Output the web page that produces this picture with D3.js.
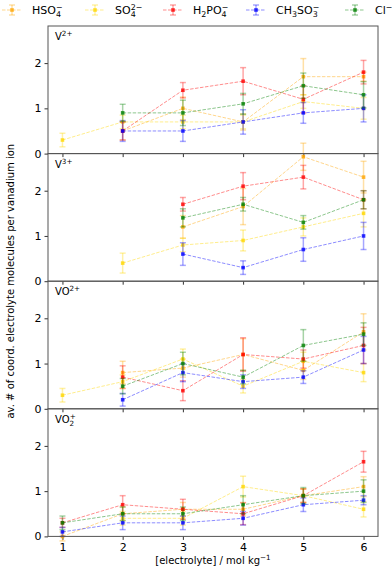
<!DOCTYPE html>
<html>
<head>
<meta charset="utf-8">
<script src="https://cdn.jsdelivr.net/npm/d3@7"></script>
<style>
  body { margin: 0; background: #fff; }
  svg text { font-family: "DejaVu Sans", sans-serif; }
</style>
</head>
<body>
<svg id="chart" width="392" height="568"></svg>
<script>
// x values: electrolyte concentration
const conc = [1, 2, 3, 4, 5, 6]
const xTicks = [1, 2, 3, 4, 5, 6]
const yTicks = [0, 1, 2]
const seriesColors = ['#ffa500', '#ffd700', '#ff0000', '#0000ff', '#008000']

// order of series in every panel: HSO4-, SO4 2-, H2PO4-, CH3SO3-, Cl-
const v2Mean = [
  [null, 0.5, 1.0, 0.7, 1.7, 1.7],
  [0.3, 0.7, 0.7, 0.7, 1.15, 1.0],
  [null, 0.5, 1.4, 1.6, 1.2, 1.8],
  [null, 0.5, 0.5, 0.7, 0.9, 1.0],
  [null, 0.9, 0.9, 1.1, 1.5, 1.3]
]
const v2Err = [
  [0, 0.2, 0.25, 0.18, 0.4, 0.1],
  [0.15, 0.15, 0.15, 0.15, 0.15, 0.24],
  [0, 0.2, 0.17, 0.3, 0.3, 0.26],
  [0, 0.23, 0.23, 0.27, 0.23, 0.3],
  [0, 0.19, 0.28, 0.23, 0.28, 0.29]
]
const v3Mean = [
  [null, null, 1.2, 1.65, 2.75, 2.3],
  [null, 0.4, 0.8, 0.9, 1.2, 1.5],
  [null, null, 1.7, 2.1, 2.3, 1.8],
  [null, null, 0.6, 0.3, 0.7, 1.0],
  [null, null, 1.4, 1.7, 1.3, 1.8]
]
const v3Err = [
  [0, 0, 0.25, 0.4, 0.3, 0.35],
  [0, 0.22, 0.15, 0.23, 0.2, 0.3],
  [0, 0, 0.15, 0.3, 0.26, 0.2],
  [0, 0, 0.25, 0.15, 0.26, 0.3],
  [0, 0, 0.2, 0.15, 0.15, 0.2]
]
const vo2Mean = [
  [null, 0.8, 0.9, 1.2, 0.85, 1.7],
  [0.3, 0.6, 1.1, 0.5, 1.05, 0.8],
  [null, 0.7, 0.4, 1.2, 1.1, 1.4],
  [null, 0.2, 0.8, 0.6, 0.7, 1.3],
  [null, 0.5, 1.0, 0.7, 1.4, 1.65]
]
const vo2Err = [
  [0, 0.25, 0.2, 0.35, 0.2, 0.4],
  [0.15, 0.15, 0.22, 0.15, 0.2, 0.2],
  [0, 0.25, 0.22, 0.37, 0.2, 0.4],
  [0, 0.14, 0.2, 0.15, 0.14, 0.3],
  [0, 0.17, 0.25, 0.15, 0.35, 0.25]
]
const vo2pMean = [
  [0.0, 0.5, 0.6, 0.6, 0.9, 1.1],
  [null, 0.4, 0.4, 1.1, 0.9, 0.6],
  [0.3, 0.7, 0.6, 0.5, 0.9, 1.65],
  [0.1, 0.3, 0.3, 0.4, 0.7, 0.8],
  [0.3, 0.5, 0.5, 0.7, 0.9, 1.0]
]
const vo2pErr = [
  [0.1, 0.15, 0.15, 0.15, 0.15, 0.22],
  [0, 0.15, 0.15, 0.23, 0.15, 0.17],
  [0.1, 0.2, 0.22, 0.24, 0.15, 0.23],
  [0.1, 0.15, 0.15, 0.15, 0.15, 0.1],
  [0.15, 0.15, 0.15, 0.2, 0.18, 0.25]
]

// label pieces: [text, small, dx, dy]
const panels = [
  { mean: v2Mean, err: v2Err, label: [['V', 0, 0, 0], ['2+', 1, 0, -4]] },
  { mean: v3Mean, err: v3Err, label: [['V', 0, 0, 0], ['3+', 1, 0, -4]] },
  { mean: vo2Mean, err: vo2Err, label: [['VO', 0, 0, 0], ['2+', 1, 0, -4]] },
  { mean: vo2pMean, err: vo2pErr, label: [['VO', 0, 0, 0], ['2', 1, 0, 3], ['+', 1, -4.5, -7]] }
]
const legendLabels = [
  [['HSO', 0, 0, 0], ['4', 1, 0, 3], ['\u2212', 1, -5, -7]],
  [['SO', 0, 0, 0], ['4', 1, 0, 3], ['2\u2212', 1, -5, -7]],
  [['H', 0, 0, 0], ['2', 1, 0, 3], ['PO', 0, 0, -3], ['4', 1, 0, 3], ['\u2212', 1, -5, -7]],
  [['CH', 0, 0, 0], ['3', 1, 0, 3], ['SO', 0, 0, -3], ['3', 1, 0, 3], ['\u2212', 1, -5, -7]],
  [['Cl', 0, 0, 0], ['\u2212', 1, 0, -4]]
]

const svg = d3.select('#chart')
const plotLeft = 48
const plotRight = 378
const plotTop = 26
const panelH = 127.6

const x = d3.scaleLinear().domain([0.76, 6.24]).range([plotLeft, plotRight])

// 写带上下标的文本
function richText(sel, parts, size) {
  parts.forEach((p) => {
    const t = sel.append('tspan').text(p[0])
    if (p[1]) t.attr('font-size', size * 0.72)
    if (p[2]) t.attr('dx', p[2])
    if (p[3]) t.attr('dy', p[3])
  })
}

panels.forEach((panel, i) => {
  const y0 = plotTop + i * panelH
  const y = d3.scaleLinear().domain([0, 2.82]).range([y0 + panelH, y0])
  const g = svg.append('g')

  // y axis ticks
  const ya = g.append('g')
    .attr('transform', `translate(${plotLeft},0)`)
    .call(d3.axisLeft(y).tickValues(yTicks).tickFormat(d3.format('d')).tickSize(3.5).tickPadding(3))
  ya.select('.domain').remove()
  ya.selectAll('text').attr('font-size', 11).attr('fill', '#000')
    .style('font-family', '"DejaVu Sans", sans-serif')
  ya.selectAll('line').attr('stroke', '#333')

  // x axis ticks (labels only on the last panel)
  const xa = g.append('g')
    .attr('transform', `translate(0,${y0 + panelH})`)
    .call(d3.axisBottom(x).tickValues(xTicks).tickFormat(i === 3 ? d3.format('d') : '').tickSize(3.5).tickPadding(3))
  xa.select('.domain').remove()
  xa.selectAll('text').attr('font-size', 11).attr('fill', '#000')
    .style('font-family', '"DejaVu Sans", sans-serif')
  xa.selectAll('line').attr('stroke', '#333')

  const plot = g.append('g')
  panel.mean.forEach((vals, s) => {
    const color = seriesColors[s]
    const pts = conc.map((c, k) => ({ c, v: vals[k], e: panel.err[s][k] })).filter(d => d.v !== null)
    const line = d3.line().x(d => x(d.c)).y(d => y(d.v))
    plot.append('path')
      .datum(pts)
      .attr('d', line)
      .attr('fill', 'none')
      .attr('stroke', color)
      .attr('stroke-opacity', 0.45)
      .attr('stroke-width', 1)
      .attr('stroke-dasharray', '3.5,1.5')
    const eb = plot.selectAll(null).data(pts).enter().append('g')
      .attr('stroke', color)
      .attr('stroke-opacity', 0.35)
      .attr('stroke-width', 1.5)
    eb.append('line')
      .attr('x1', d => x(d.c)).attr('x2', d => x(d.c))
      .attr('y1', d => y(d.v - d.e)).attr('y2', d => y(d.v + d.e))
    eb.append('line')
      .attr('x1', d => x(d.c) - 3).attr('x2', d => x(d.c) + 3)
      .attr('y1', d => y(d.v - d.e)).attr('y2', d => y(d.v - d.e))
    eb.append('line')
      .attr('x1', d => x(d.c) - 3).attr('x2', d => x(d.c) + 3)
      .attr('y1', d => y(d.v + d.e)).attr('y2', d => y(d.v + d.e))
    plot.selectAll(null).data(pts).enter().append('rect')
      .attr('x', d => x(d.c) - 1.8)
      .attr('y', d => y(d.v) - 1.8)
      .attr('width', 3.6)
      .attr('height', 3.6)
      .attr('fill', color)
      .attr('fill-opacity', 0.8)
  })

  // frame
  g.append('rect')
    .attr('x', plotLeft).attr('y', y0)
    .attr('width', plotRight - plotLeft).attr('height', panelH)
    .attr('fill', 'none')
    .attr('stroke', '#555')
    .attr('stroke-width', 1)

  const lab = g.append('text')
    .attr('x', plotLeft + 7)
    .attr('y', y0 + 14)
    .attr('font-size', 10)
  richText(lab, panel.label, 10)
})

// x label
const xl = svg.append('text')
  .attr('x', (plotLeft + plotRight) / 2)
  .attr('y', 564)
  .attr('text-anchor', 'middle')
  .attr('font-size', 10)
richText(xl, [['[electrolyte] / mol kg', 0, 0, 0], ['\u22121', 1, 0, -4]], 10)

// y label
svg.append('text')
  .attr('transform', `translate(14,${plotTop + 2 * panelH}) rotate(-90)`)
  .attr('text-anchor', 'middle')
  .attr('font-size', 10)
  .text('av. # of coord. electrolyte molecules per vanadium ion')

// legend
const legendX = [12, 95, 173, 256, 355]
legendX.forEach((lx, s) => {
  const color = seriesColors[s]
  const lg = svg.append('g')
  lg.append('line')
    .attr('x1', lx - 10).attr('x2', lx + 10).attr('y1', 10).attr('y2', 10)
    .attr('stroke', color).attr('stroke-opacity', 0.45)
    .attr('stroke-dasharray', '3.5,1.5')
  lg.append('line')
    .attr('x1', lx).attr('x2', lx).attr('y1', 5).attr('y2', 15)
    .attr('stroke', color).attr('stroke-opacity', 0.35).attr('stroke-width', 1.5)
  lg.append('line')
    .attr('x1', lx - 3).attr('x2', lx + 3).attr('y1', 5).attr('y2', 5)
    .attr('stroke', color).attr('stroke-opacity', 0.35).attr('stroke-width', 1.5)
  lg.append('line')
    .attr('x1', lx - 3).attr('x2', lx + 3).attr('y1', 15).attr('y2', 15)
    .attr('stroke', color).attr('stroke-opacity', 0.35).attr('stroke-width', 1.5)
  lg.append('rect')
    .attr('x', lx - 1.8).attr('y', 8.2).attr('width', 3.6).attr('height', 3.6)
    .attr('fill', color).attr('fill-opacity', 0.8)
  const t = lg.append('text')
    .attr('x', lx + 20)
    .attr('y', 14)
    .attr('font-size', 11)
  richText(t, legendLabels[s], 11)
})
</script>
</body>
</html>
